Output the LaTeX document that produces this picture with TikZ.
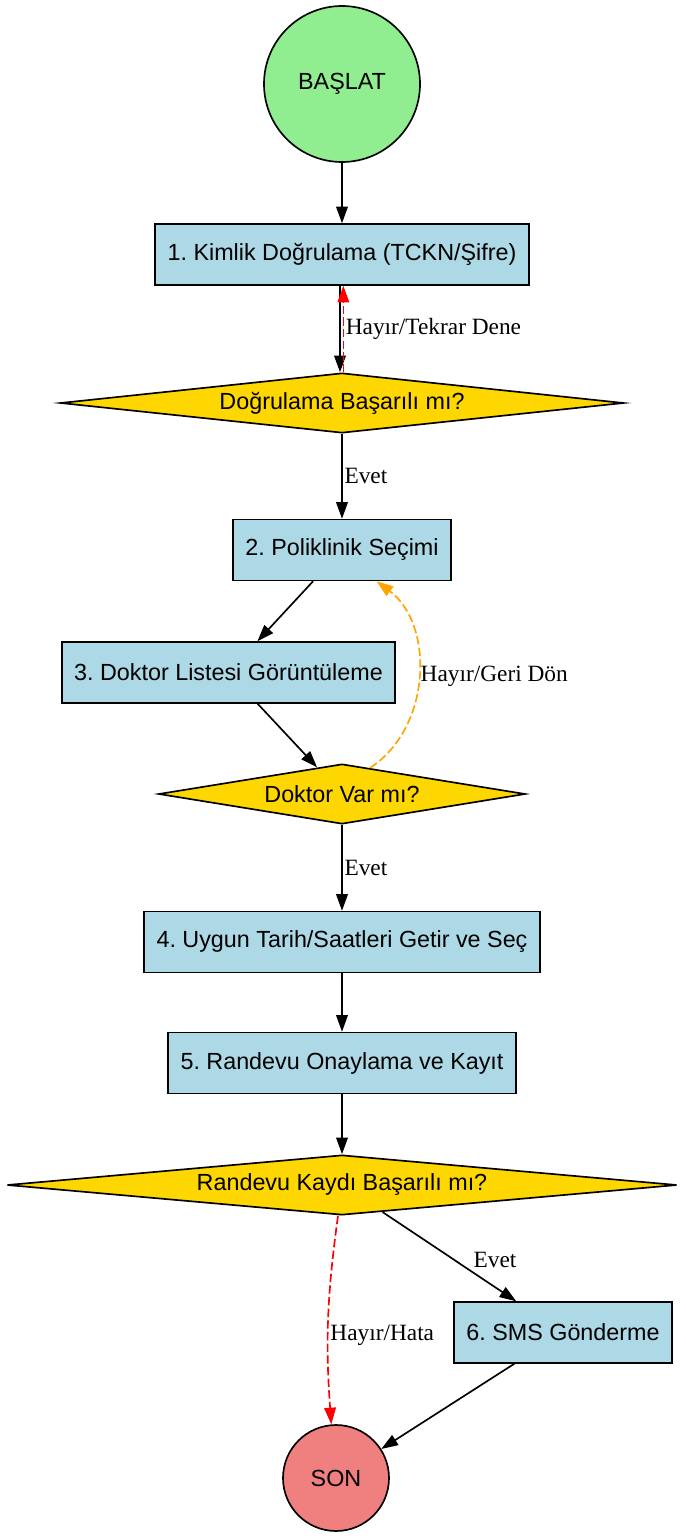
\documentclass[tikz,border=0pt]{standalone}
\usepackage{fontspec}
\setmainfont{Liberation Serif}
\setsansfont{Liberation Sans}
\usetikzlibrary{shapes.geometric,arrows.meta}
\definecolor{lgn}{HTML}{90EE90}
\definecolor{lbx}{HTML}{ADD8E6}
\definecolor{gld}{HTML}{FFD700}
\definecolor{lcr}{HTML}{F08080}
\definecolor{org}{HTML}{FFA500}
\tikzset{
    kutu/.style={draw,fill=lbx,line width=1pt,font=\sffamily\fontsize{14}{17}\selectfont,inner xsep=7.5pt,minimum height=36.5pt},
    karar/.style={diamond,draw,fill=gld,line width=1pt,font=\sffamily\fontsize{14}{17}\selectfont,inner sep=0pt,aspect=8,minimum height=36pt},
    daire/.style={circle,draw,line width=1pt,font=\sffamily\fontsize{14}{17}\selectfont,inner sep=0pt},
    ok/.style={-{Triangle[length=10pt,width=7pt]},line width=1pt},
    kesik/.style={dash pattern=on 5pt off 2pt},
    etk/.style={text=black,font=\rmfamily\fontsize{14}{17}\selectfont,inner sep=1pt}
}
\frenchspacing

\begin{document}
\begin{tikzpicture}[x=0.6pt,y=-0.6pt]
    \useasboundingbox (0,0) rectangle (685,1538);
    \node [daire,fill=lgn,minimum size=93.6pt] (bas) at (342,84) {BAŞLAT};
    \node [kutu] (kim) at (342,254.5) {1. Kimlik Doğrulama (TCKN/Şifre)};
    \node [karar,minimum width=338pt] (dog) at (342,403) {Doğrulama Başarılı mı?};
    \node [kutu] (pol) at (342,550) {2. Poliklinik Seçimi};
    \node [kutu] (dok) at (228.5,672.5) {3. Doktor Listesi Görüntüleme};
    \node [karar,minimum width=220pt] (var) at (342,794) {Doktor Var mı?};
    \node [kutu] (tar) at (342,942) {4. Uygun Tarih/Saatleri Getir ve Seç};
    \node [kutu] (ony) at (342,1063) {5. Randevu Onaylama ve Kayıt};
    \node [karar,minimum width=402pt] (kay) at (342,1185) {Randevu Kaydı Başarılı mı?};
    \node [kutu] (sms) at (563,1332.5) {6. SMS Gönderme};
    \node [daire,fill=lcr,minimum size=63.6pt] (son) at (336,1478) {SON};

    \draw [ok] (bas) -- (kim);
    \draw [ok] ([xshift=-1.2pt]kim.south) -- ([xshift=-1.2pt]dog.north);
    \draw [ok,red,kesik] ([xshift=.8pt]dog.north)
        -- node [etk,right] {Hayır/Tekrar Dene} ([xshift=.8pt]kim.south);
    \draw [ok] (dog) -- node [etk,right] {Evet} (pol);
    \draw [ok] (pol) -- (dok);
    \draw [ok] (dok) -- (var);
    \draw [ok,org,kesik] (var.43)
        to [bend right=55] node [etk,right] {Hayır/Geri Dön} (pol.-42);
    \draw [ok] (var) -- node [etk,right] {Evet} (tar);
    \draw [ok] (tar) -- (ony);
    \draw [ok] (ony) -- (kay);
    \draw [ok] (kay) -- node [etk,right=13pt,yshift=-2pt] {Evet} (sms);
    \draw [ok,red,kesik] ([xshift=-2.4pt]kay.south)
        to [bend right=6] node [etk,right,pos=.58] {Hayır/Hata} (son.95);
    \draw [ok] (sms) -- (son);
\end{tikzpicture}
\end{document}
